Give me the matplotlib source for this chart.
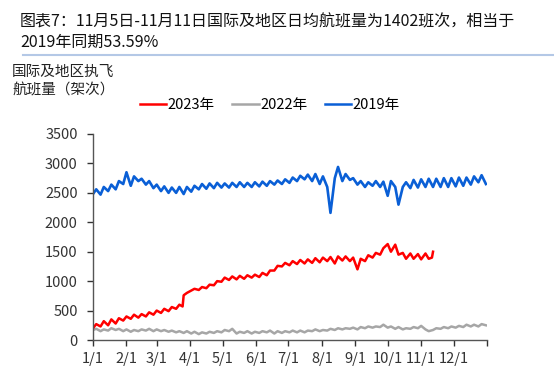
import matplotlib
matplotlib.use("Agg")
import matplotlib.pyplot as plt
from matplotlib.lines import Line2D

plt.rcParams['font.family'] = ['Noto Sans CJK SC', 'DejaVu Sans']

title = "图表7：11月5日-11月11日国际及地区日均航班量为1402班次，相当于\n2019年同期53.59%"
ylabel = "国际及地区执飞\n航班量（架次）"
series_names = ["2023年", "2022年", "2019年"]
month_ticks = [0, 31, 59, 90, 120, 151, 181, 212, 243, 273, 304, 334]
month_labels = ["1/1", "2/1", "3/1", "4/1", "5/1", "6/1", "7/1", "8/1", "9/1", "10/1", "11/1", "12/1"]

days = [0, 3, 7, 10, 14, 17, 21, 24, 28, 31, 35, 38, 42, 45, 49, 52, 56, 59, 63, 66,
        70, 73, 77, 80, 84, 87, 91, 94, 98, 101, 105, 108, 112, 115, 119, 122, 126, 129, 133, 136,
        140, 143, 147, 150, 154, 157, 161, 164, 168, 171, 175, 178, 182, 185, 189, 192, 196, 199, 203, 206,
        210, 213, 217, 220, 224, 227, 231, 234, 238, 241, 245, 248, 252, 255, 259, 262, 266, 269, 273, 276,
        280, 283, 287, 290, 294, 297, 301, 304, 308, 311, 315, 318, 322, 325, 329, 332, 336, 339, 343, 346,
        350, 353, 357, 360, 364]

v2019 = [2480, 2560, 2470, 2600, 2530, 2640, 2560, 2700, 2650, 2850, 2620, 2780, 2700, 2740, 2640, 2700, 2580, 2640, 2530, 2610,
         2500, 2590, 2500, 2600, 2480, 2600, 2520, 2620, 2560, 2650, 2570, 2660, 2580, 2670, 2590, 2660, 2590, 2670, 2600, 2680,
         2600, 2670, 2600, 2680, 2610, 2690, 2620, 2700, 2640, 2710, 2650, 2730, 2670, 2760, 2700, 2790, 2730, 2810, 2700, 2820,
         2650, 2780, 2600, 2160, 2750, 2940, 2700, 2820, 2720, 2750, 2640, 2700, 2600, 2680, 2620, 2700, 2600, 2690, 2450, 2700,
         2600, 2300, 2600, 2680, 2580, 2720, 2590, 2730, 2600, 2740, 2600, 2740, 2600, 2750, 2600, 2750, 2610, 2760, 2620, 2760,
         2640, 2780, 2680, 2800, 2650]

v2022 = [170, 190, 150, 180, 160, 200, 170, 190, 150, 180, 140, 170, 150, 180, 160, 190, 150, 180, 150, 170,
         140, 160, 130, 150, 120, 150, 110, 140, 100, 130, 110, 140, 120, 150, 130, 170, 150, 190, 110, 140,
         120, 150, 110, 140, 120, 150, 130, 160, 110, 150, 120, 150, 130, 160, 130, 160, 130, 160, 150, 180,
         150, 170, 160, 190, 170, 200, 180, 200, 190, 210, 180, 220, 200, 230, 210, 230, 220, 260, 210, 230,
         190, 220, 180, 200, 190, 220, 200, 240, 180, 150, 170, 200, 190, 220, 200, 230, 210, 240, 220, 260,
         230, 260, 230, 270, 250]

days23 = [0, 3, 7, 10, 14, 17, 21, 24, 28, 31, 35, 38, 42, 45, 49, 52, 56, 59, 63, 66,
          70, 73, 77, 80, 83, 84, 87, 91, 94, 98, 101, 105, 108, 112, 115, 119, 122, 126, 129, 133,
          136, 140, 143, 147, 150, 154, 157, 161, 164, 168, 171, 175, 178, 182, 185, 189, 192, 196, 199, 203,
          206, 210, 213, 217, 220, 224, 227, 231, 234, 238, 241, 245, 248, 252, 255, 259, 262, 266, 269, 273,
          276, 280, 283, 287, 290, 294, 297, 301, 304, 308, 311, 314, 315]

v2023 = [200, 270, 230, 320, 250, 350, 280, 370, 330, 400, 360, 430, 380, 440, 400, 470, 430, 500, 460, 530,
         490, 560, 530, 600, 570, 760, 800, 840, 870, 850, 900, 880, 940, 930, 1000, 990, 1060, 1020, 1080, 1030,
         1090, 1040, 1100, 1060, 1110, 1070, 1140, 1100, 1180, 1180, 1260, 1250, 1310, 1270, 1340, 1290, 1360, 1300, 1370, 1310,
         1390, 1320, 1400, 1340, 1410, 1300, 1420, 1350, 1420, 1340, 1400, 1200, 1380, 1340, 1440, 1400, 1480, 1450, 1560, 1630,
         1500, 1620, 1450, 1480, 1380, 1470, 1380, 1460, 1370, 1470, 1380, 1400, 1500]

fig = plt.figure(figsize=(5.54, 3.77), dpi=100)
ax = fig.add_axes([93/554, 1-340/377, (487-93)/554, (340-134)/377])

c23, c22, c19 = "#ff0000", "#a6a6a6", "#0a5fd6"
ax.plot(days, v2022, color=c22, lw=1.8)
ax.plot(days23, v2023, color=c23, lw=1.8)
ax.plot(days, v2019, color=c19, lw=1.9)

ax.set_xlim(0, 365)
ax.set_ylim(0, 3500)
ax.set_yticks(range(0, 3501, 500))
ax.set_xticks(month_ticks + [365])
ax.set_xticklabels(month_labels + [""])
ax.tick_params(axis='both', labelsize=10.5, colors="#333333", length=4, width=1, direction='out')
ax.tick_params(axis='y', pad=7)
ax.tick_params(axis='x', pad=5)
for s in ['top', 'right']:
    ax.spines[s].set_visible(False)
for s in ['left', 'bottom']:
    ax.spines[s].set_color("#555555")
    ax.spines[s].set_linewidth(1.0)

fig.text(20/554, 1-22/377, title.split("\n")[0], ha='left', va='center', fontsize=11.5, color="#111111")
fig.text(20/554, 1-42/377, title.split("\n")[1], ha='left', va='center', fontsize=11.5, color="#111111")
fig.add_artist(Line2D([23/554, 1.0], [1-55/377, 1-55/377], color="#b4c8e6", lw=1.5))
fig.text(12/554, 1-72/377, ylabel.split("\n")[0], ha='left', va='center', fontsize=10.5, color="#222222")
fig.text(12/554, 1-90/377, ylabel.split("\n")[1], ha='left', va='center', fontsize=10.5, color="#222222")

handles = [Line2D([], [], color=c, lw=1.8) for c in (c23, c22, c19)]
fig.legend(handles, series_names, loc='center', bbox_to_anchor=(270/554, 1-105/377), ncol=3, frameon=False,
           fontsize=10.5, handlelength=1.8, handletextpad=0.1, columnspacing=1.2)

fig.savefig("out.png", dpi=100)
